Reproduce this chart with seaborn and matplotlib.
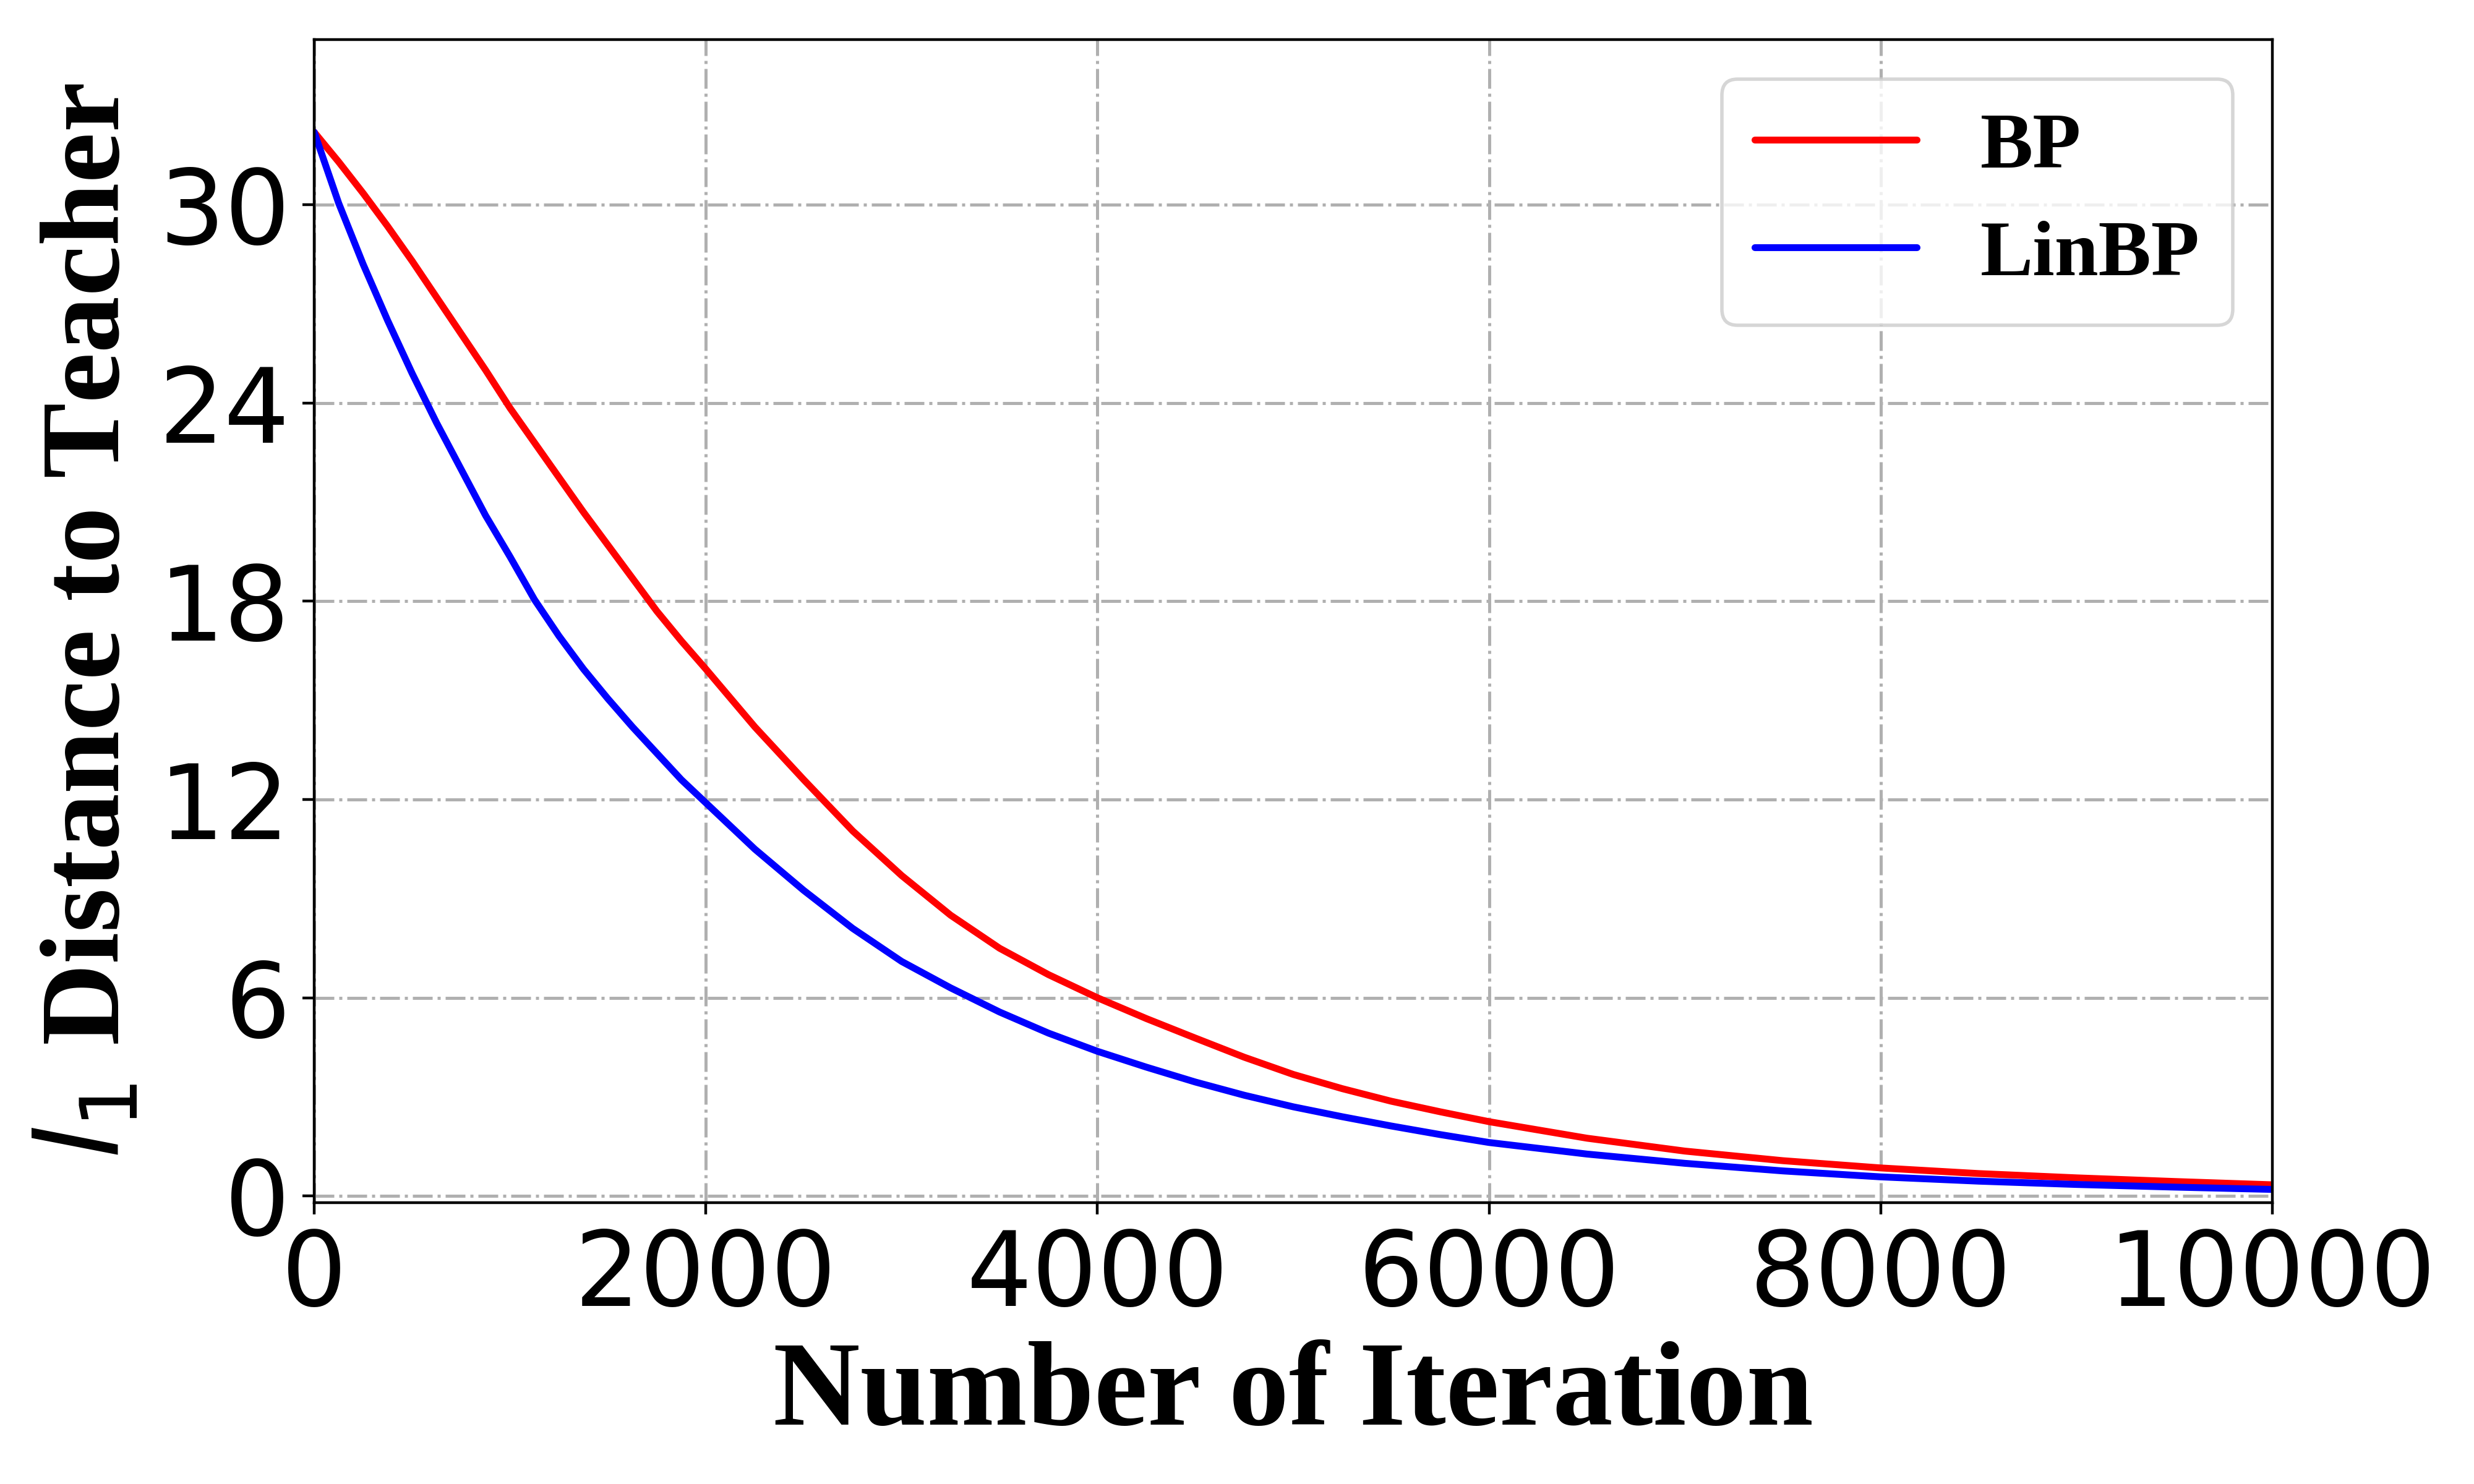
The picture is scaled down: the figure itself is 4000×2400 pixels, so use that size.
import numpy as np
import pandas as pd
import matplotlib
matplotlib.use("Agg")
import matplotlib.pyplot as plt
import seaborn as sns

# ---- data ----
iterations = [0, 125, 250, 375, 500, 625, 750, 875, 1000, 1125, 1250, 1375, 1500,
              1625, 1750, 1875, 2000, 2250, 2500, 2750, 3000, 3250, 3500, 3750,
              4000, 4250, 4500, 4750, 5000, 5250, 5500, 5750, 6000, 6500, 7000,
              7500, 8000, 8500, 9000, 9500, 10000]
bp_values = [32.2, 31.3, 30.35, 29.35, 28.3, 27.2, 26.1, 25.0, 23.85, 22.8, 21.75,
             20.7, 19.7, 18.7, 17.7, 16.8, 15.95, 14.2, 12.6, 11.05, 9.7, 8.5, 7.5,
             6.7, 6.0, 5.37, 4.78, 4.2, 3.68, 3.25, 2.87, 2.55, 2.25, 1.75, 1.36,
             1.07, 0.85, 0.68, 0.55, 0.44, 0.34]
linbp_values = [32.2, 30.05, 28.2, 26.5, 24.9, 23.4, 22.0, 20.6, 19.35, 18.05, 16.95,
                15.95, 15.05, 14.2, 13.4, 12.6, 11.9, 10.5, 9.25, 8.1, 7.1, 6.3, 5.57,
                4.93, 4.38, 3.9, 3.45, 3.05, 2.7, 2.4, 2.12, 1.86, 1.62, 1.27, 0.99,
                0.76, 0.58, 0.45, 0.35, 0.27, 0.20]
series_names = ["BP", "LinBP"]
series_colors = ["red", "blue"]
x_ticks = [0, 2000, 4000, 6000, 8000, 10000]
y_ticks = [0, 6, 12, 18, 24, 30]

df = pd.DataFrame({
    "iter": iterations * 2,
    "dist": bp_values + linbp_values,
    "method": [series_names[0]] * len(iterations) + [series_names[1]] * len(iterations),
})

sns.set_style("ticks")
plt.rcParams.update({
    "mathtext.fontset": "dejavusans",
    "text.color": "black",
    "axes.labelcolor": "black",
    "xtick.color": "black",
    "ytick.color": "black",
    "axes.edgecolor": "black",
})

fig = plt.figure(figsize=(10, 6), dpi=400)
ax = fig.add_axes([0.127, 0.1896, 0.7915, 0.7837])

sns.lineplot(data=df, x="iter", y="dist", hue="method",
             palette=dict(zip(series_names, series_colors)),
             linewidth=2, ax=ax)

ax.set_xlim(0, 10000)
ax.set_ylim(-0.2, 35)
ax.set_xticks(x_ticks)
ax.set_yticks(y_ticks)
ax.tick_params(axis="both", labelsize=30, direction="out", length=3.5, width=0.8,
               colors="black")
for lab in ax.get_xticklabels() + ax.get_yticklabels():
    lab.set_fontfamily("DejaVu Sans")

ax.grid(True, linestyle="-.", color="#b0b0b0", linewidth=0.9)
for sp in ax.spines.values():
    sp.set_visible(True)
    sp.set_color("black")
    sp.set_linewidth(0.8)

serif = ["Liberation Serif", "DejaVu Serif"]
ax.set_xlabel("Number of Iteration", fontsize=35, fontweight="bold",
              family=serif, labelpad=4, color="black")
ax.set_ylabel(r"$l_1$ Distance to Teacher", fontsize=33, fontweight="bold",
              family=serif, labelpad=4.5, color="black")

leg = ax.legend(loc="upper right", fancybox=True, framealpha=0.8,
                prop={"family": serif, "weight": "bold", "size": 23},
                handlelength=2.05, labelspacing=0.45, borderpad=0.42,
                handletextpad=0.8, borderaxespad=0.5)
leg.get_frame().set_edgecolor("#cccccc")
leg.get_frame().set_linewidth(1.0)
for line in leg.get_lines():
    line.set_linewidth(2)
for t in leg.get_texts():
    t.set_color("black")

fig.savefig("out.png", dpi=400)
